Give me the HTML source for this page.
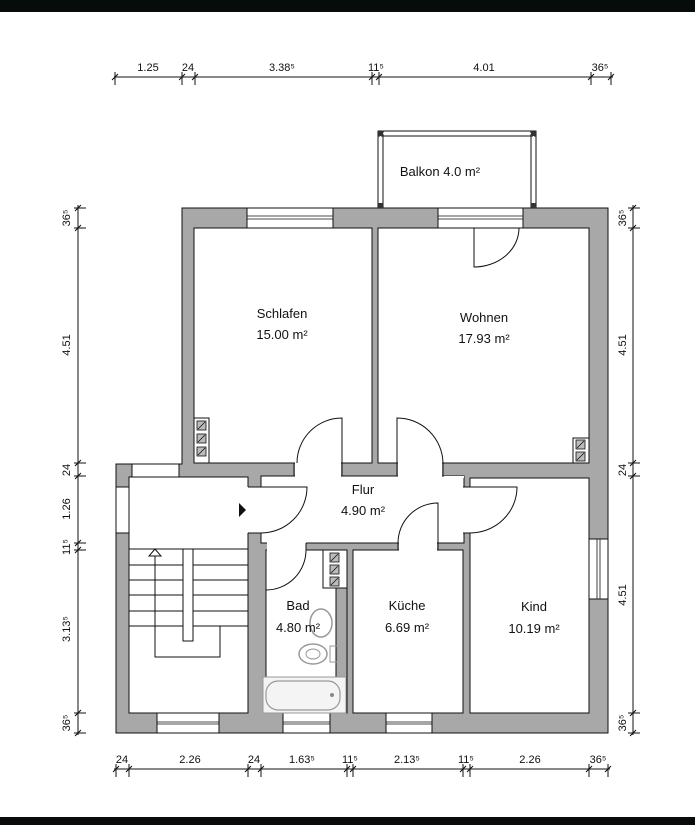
<!DOCTYPE html>
<html><head><meta charset="utf-8"><style>
html,body{margin:0;padding:0;background:#fff;}
svg{display:block;}
text{font-family:"Liberation Sans",sans-serif;fill:#111;}
.rl{font-size:13px;text-anchor:middle;}
.dm{font-size:11px;text-anchor:middle;}
</style></head><body>
<svg width="695" height="825" viewBox="0 0 695 825" xmlns="http://www.w3.org/2000/svg">
<rect x="0" y="0" width="695" height="12" fill="#070b09"/>
<rect x="0" y="817" width="695" height="8" fill="#070b09"/>

<!-- building walls -->
<polygon points="182,208 608,208 608,733 116,733 116,464 182,464" fill="#a8a8a8" stroke="#111" stroke-width="1"/>
<g fill="#fff" stroke="#111" stroke-width="1">
<rect x="194" y="228" width="178" height="235"/>
<rect x="378" y="228" width="211" height="235"/>
<rect x="129" y="477" width="119" height="236"/>
<rect x="261" y="476" width="203" height="67"/>
<rect x="266" y="550" width="81" height="163"/>
<rect x="353" y="550" width="110" height="163"/>
<rect x="470" y="478" width="119" height="235"/>
</g>
<!-- door openings -->
<g fill="#fff" stroke="none">
<rect x="295" y="462" width="46" height="15"/>
<rect x="398" y="462" width="44" height="15"/>
<rect x="247" y="487" width="16" height="46"/>
<rect x="267" y="542" width="39" height="9"/>
<rect x="399" y="542" width="38" height="9"/>
<rect x="462" y="487" width="10" height="46"/>
<rect x="444" y="476" width="20" height="2"/>
</g>
<g fill="none" stroke="#111" stroke-width="1">
<line x1="294" y1="463" x2="294" y2="476"/><line x1="342" y1="463" x2="342" y2="476"/>
<line x1="397" y1="463" x2="397" y2="476"/><line x1="443" y1="463" x2="443" y2="476"/>
<line x1="248" y1="487" x2="261" y2="487"/><line x1="248" y1="533" x2="261" y2="533"/>
<line x1="463" y1="487" x2="470" y2="487"/><line x1="463" y1="533" x2="470" y2="533"/>
<line x1="306" y1="543" x2="306" y2="550"/><line x1="398" y1="543" x2="398" y2="550"/><line x1="438" y1="543" x2="438" y2="550"/>
</g>
<!-- windows -->
<g fill="#fff" stroke="#111" stroke-width="1">
<rect x="247" y="208" width="86" height="20"/>
<rect x="438" y="208" width="85" height="20"/>
<rect x="132" y="464" width="47" height="13"/>
<rect x="116" y="487" width="13" height="46"/>
<rect x="589" y="539" width="19" height="60"/>
<rect x="157" y="713" width="62" height="20"/>
<rect x="283" y="713" width="47" height="20"/>
<rect x="386" y="713" width="46" height="20"/>
</g>
<g stroke="#111" stroke-width="0.8">
<line x1="247" y1="216" x2="333" y2="216"/><line x1="247" y1="219" x2="333" y2="219"/>
<line x1="438" y1="216" x2="523" y2="216"/><line x1="438" y1="219" x2="523" y2="219"/>
<line x1="597" y1="539" x2="597" y2="599"/><line x1="600" y1="539" x2="600" y2="599"/>
<line x1="157" y1="722" x2="219" y2="722"/><line x1="157" y1="724" x2="219" y2="724"/>
<line x1="283" y1="722" x2="330" y2="722"/><line x1="283" y1="724" x2="330" y2="724"/>
<line x1="386" y1="722" x2="432" y2="722"/><line x1="386" y1="724" x2="432" y2="724"/>
</g>
<!-- doors -->
<g fill="none" stroke="#111" stroke-width="1">
<path d="M342,463 L342,418 A45,45 0 0 0 297,463"/>
<path d="M397,463 L397,418 A46,46 0 0 1 443,463"/>
<path d="M474,228 L474,267 A45,39 0 0 0 519,228"/>
<path d="M261,487 L307,487 A46,46 0 0 1 261,533"/>
<path d="M266,550 L266,590 A40,40 0 0 0 306,550"/>
<path d="M438,543 L438,503 A40,40 0 0 0 398,543"/>
<path d="M470,487 L517,487 A47,46 0 0 1 470,533"/>
</g>
<!-- balcony -->
<g fill="none" stroke="#111" stroke-width="1">
<rect x="378" y="131" width="5" height="77"/>
<rect x="531" y="131" width="5" height="77"/>
<rect x="378" y="131" width="158" height="5"/>
</g>
<g stroke="#fff" stroke-width="1" stroke-dasharray="8,3,2,3">
<line x1="383" y1="133.5" x2="531" y2="133.5"/>
<line x1="380.5" y1="136" x2="380.5" y2="205"/>
<line x1="533.5" y1="136" x2="533.5" y2="205"/>
</g>
<g fill="#333"><rect x="378" y="131" width="5" height="5"/><rect x="531" y="131" width="5" height="5"/><rect x="378" y="203" width="5" height="5"/><rect x="531" y="203" width="5" height="5"/></g>
<!-- vents -->
<g fill="#fff" stroke="#111" stroke-width="1">
<rect x="194" y="418" width="15" height="45"/>
<rect x="573" y="438" width="16" height="25"/>
<rect x="323" y="550" width="24" height="38"/>
</g>
<g fill="#bbb" stroke="#111" stroke-width="0.8">
<rect x="197" y="421" width="9" height="9"/><rect x="197" y="434" width="9" height="9"/><rect x="197" y="447" width="9" height="9"/>
<rect x="576" y="440" width="9" height="9"/><rect x="576" y="452" width="9" height="9"/>
<rect x="330" y="553" width="9" height="9"/><rect x="330" y="565" width="9" height="9"/><rect x="330" y="577" width="9" height="9"/>
</g>
<g stroke="#111" stroke-width="0.8">
<line x1="198" y1="429" x2="205" y2="422"/><line x1="198" y1="442" x2="205" y2="435"/><line x1="198" y1="455" x2="205" y2="448"/>
<line x1="577" y1="448" x2="584" y2="441"/><line x1="577" y1="460" x2="584" y2="453"/>
<line x1="331" y1="561" x2="338" y2="554"/><line x1="331" y1="573" x2="338" y2="566"/><line x1="331" y1="585" x2="338" y2="578"/>
</g>
<!-- bath fixtures -->
<rect x="336" y="588" width="11" height="89" fill="#a8a8a8" stroke="#111" stroke-width="1"/>
<rect x="263" y="677" width="83" height="36" fill="#f4f4f4" stroke="#999" stroke-width="1"/>
<rect x="266" y="681" width="74" height="29" rx="12" fill="none" stroke="#999" stroke-width="1.2"/>
<circle cx="332" cy="695" r="2" fill="#888"/>
<ellipse cx="321" cy="623" rx="11" ry="14" fill="none" stroke="#999" stroke-width="1.5"/>
<ellipse cx="313" cy="654" rx="14" ry="10" fill="none" stroke="#999" stroke-width="1.5"/>
<ellipse cx="313" cy="654" rx="7" ry="5" fill="none" stroke="#999" stroke-width="1"/>
<rect x="330" y="646" width="7" height="16" fill="none" stroke="#999" stroke-width="1"/>
<!-- stairs -->
<g stroke="#111" stroke-width="1" fill="none">
<line x1="129" y1="549" x2="248" y2="549"/>
<line x1="129" y1="565" x2="248" y2="565"/>
<line x1="129" y1="580" x2="248" y2="580"/>
<line x1="129" y1="595" x2="248" y2="595"/>
<line x1="129" y1="611" x2="248" y2="611"/>
<line x1="129" y1="626" x2="248" y2="626"/>
<rect x="183" y="549" width="10" height="92" fill="#fff"/>
<polyline points="155,556 155,657 220,657 220,626"/>
<polygon points="155,549 149,556 161,556" fill="#fff"/>
</g>
<polygon points="239,503 246,510 239,517" fill="#111"/>
<!-- room labels -->
<text class="rl" x="282" y="318">Schlafen</text><text class="rl" x="282" y="339">15.00 m²</text>
<text class="rl" x="484" y="322">Wohnen</text><text class="rl" x="484" y="343">17.93 m²</text>
<text class="rl" x="363" y="494">Flur</text><text class="rl" x="363" y="515">4.90 m²</text>
<text class="rl" x="298" y="610">Bad</text><text class="rl" x="298" y="632">4.80 m²</text>
<text class="rl" x="407" y="610">Küche</text><text class="rl" x="407" y="632">6.69 m²</text>
<text class="rl" x="534" y="611">Kind</text><text class="rl" x="534" y="633">10.19 m²</text>
<text class="rl" x="440" y="176">Balkon 4.0 m²</text>
<!-- dimension lines -->
<g stroke="#111" stroke-width="1">
<line x1="114" y1="77" x2="613" y2="77"/>
<line x1="114" y1="769" x2="610" y2="769"/>
<line x1="78" y1="205" x2="78" y2="735"/>
<line x1="633" y1="205" x2="633" y2="735"/>
<g id="tk">
<path d="M115,72V85M112,80L118,74M182,72V85M179,80L185,74M195,72V85M192,80L198,74M372,72V85M369,80L375,74M379,72V85M376,80L382,74M591,72V85M588,80L594,74M611,72V85M608,80L614,74"/>
<path d="M116,764V777M113,772L119,766M129,764V777M126,772L132,766M248,764V777M245,772L251,766M261,764V777M258,772L264,766M347,764V777M344,772L350,766M353,764V777M350,772L356,766M463,764V777M460,772L466,766M470,764V777M467,772L473,766M589,764V777M586,772L592,766M608,764V777M605,772L611,766"/>
<path d="M74,208H86M75,211L81,205M74,228H86M75,231L81,225M74,463H86M75,466L81,460M74,476H86M75,479L81,473M74,543H86M75,546L81,540M74,550H86M75,553L81,547M74,713H86M75,716L81,710M74,733H86M75,736L81,730"/>
<path d="M628,208H640M630,211L636,205M628,228H640M630,231L636,225M628,463H640M630,466L636,460M628,476H640M630,479L636,473M628,713H640M630,716L636,710M628,733H640M630,736L636,730"/>
</g>
</g>
<g class="dm">
<text class="dm" x="148" y="71">1.25</text><text class="dm" x="188" y="71">24</text>
<text class="dm" x="282" y="71">3.38⁵</text><text class="dm" x="376" y="71">11⁵</text>
<text class="dm" x="484" y="71">4.01</text><text class="dm" x="600" y="71">36⁵</text>
<text class="dm" x="122" y="763">24</text><text class="dm" x="190" y="763">2.26</text>
<text class="dm" x="254" y="763">24</text><text class="dm" x="302" y="763">1.63⁵</text>
<text class="dm" x="350" y="763">11⁵</text><text class="dm" x="407" y="763">2.13⁵</text>
<text class="dm" x="466" y="763">11⁵</text><text class="dm" x="530" y="763">2.26</text>
<text class="dm" x="598" y="763">36⁵</text>
</g>
<g font-size="11" text-anchor="middle">
<text transform="translate(70,218) rotate(-90)">36⁵</text>
<text transform="translate(70,345) rotate(-90)">4.51</text>
<text transform="translate(70,470) rotate(-90)">24</text>
<text transform="translate(70,509) rotate(-90)">1.26</text>
<text transform="translate(70,547) rotate(-90)">11⁵</text>
<text transform="translate(70,629) rotate(-90)">3.13⁵</text>
<text transform="translate(70,723) rotate(-90)">36⁵</text>
<text transform="translate(626,218) rotate(-90)">36⁵</text>
<text transform="translate(626,345) rotate(-90)">4.51</text>
<text transform="translate(626,470) rotate(-90)">24</text>
<text transform="translate(626,595) rotate(-90)">4.51</text>
<text transform="translate(626,723) rotate(-90)">36⁵</text>
</g>
</svg>
</body></html>
